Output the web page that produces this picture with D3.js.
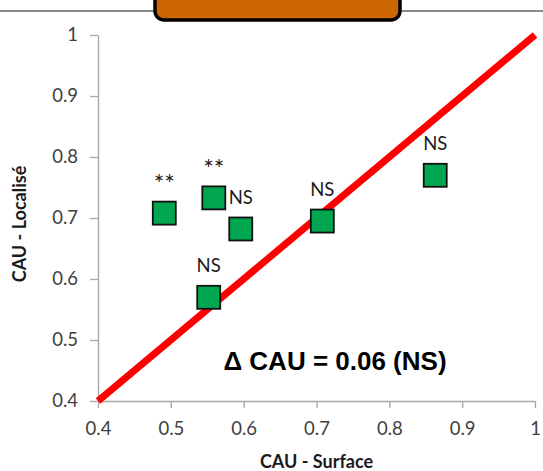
<!DOCTYPE html>
<html>
<head>
<meta charset="utf-8">
<script src="https://cdn.jsdelivr.net/npm/d3@7"></script>
<style>
body { margin: 0; background: #fff; }
svg { display: block; font-family: Lato, "Open Sans", sans-serif; }
.axis text { font-size: 18.5px; fill: #404040; font-family: Lato, sans-serif; }
.axis path, .axis line { stroke: #a6a6a6; stroke-width: 1.3; }
.axis-title { font-size: 18px; font-weight: bold; fill: #1a1a1a; }
.sig { font-size: 18.5px; fill: #1a1a1a; text-anchor: middle; }
.sig.star { font-size: 25px; }
</style>
</head>
<body>
<div id="chart"></div>
<script>
// CAU values per site
const surface  = [0.491, 0.559, 0.596, 0.552, 0.708, 0.863];
const localise = [0.708, 0.733, 0.682, 0.570, 0.695, 0.770];
const signif   = ['**', '**', 'NS', 'NS', 'NS', 'NS'];

const xTicks = [0.4, 0.5, 0.6, 0.7, 0.8, 0.9, 1];
const yTicks = [0.4, 0.5, 0.6, 0.7, 0.8, 0.9, 1];
const identity = [0.4, 1];
const deltaLabel = 'Δ CAU = 0.06 (NS)';

const width = 543, height = 471;
const margin = {top: 35, right: 8, bottom: 70, left: 98};

const svg = d3.select('#chart').append('svg')
  .attr('width', width)
  .attr('height', height);

// header strip with the clipped orange box
svg.append('line')
  .attr('x1', 0).attr('x2', width)
  .attr('y1', 11).attr('y2', 11)
  .attr('stroke', '#8c8c8c')
  .attr('stroke-width', 2);

svg.append('rect')
  .attr('x', 155).attr('y', -20)
  .attr('width', 245).attr('height', 40)
  .attr('rx', 9)
  .attr('fill', '#cc6600')
  .attr('stroke', '#000')
  .attr('stroke-width', 3.5);

let xScale = d3.scaleLinear()
  .domain([0.4, 1])
  .range([margin.left, width - margin.right]);

let yScale = d3.scaleLinear()
  .domain([0.4, 1])
  .range([height - margin.bottom, margin.top]);

const fmt = d => d === 1 ? '1' : d3.format('.1f')(d);

svg.append('g')
  .attr('class', 'axis')
  .attr('transform', `translate(0,${yScale(0.4)})`)
  .call(d3.axisBottom(xScale).tickValues(xTicks).tickFormat(fmt).tickSize(7).tickSizeOuter(0).tickPadding(14));

svg.append('g')
  .attr('class', 'axis')
  .attr('transform', `translate(${xScale(0.4)},0)`)
  .call(d3.axisLeft(yScale).tickValues(yTicks).tickFormat(fmt).tickSize(8).tickSizeOuter(0).tickPadding(12));

// identity line
svg.append('line')
  .attr('x1', xScale(identity[0])).attr('y1', yScale(identity[0]))
  .attr('x2', xScale(identity[1])).attr('y2', yScale(identity[1]))
  .attr('stroke', '#ff0000')
  .attr('stroke-width', 7);

const pts = surface.map((s, i) => ({x: s, y: localise[i], sig: signif[i]}));

const size = 23;

svg.append('g')
  .selectAll('rect')
  .data(pts)
  .enter()
  .append('rect')
  .attr('x', d => xScale(d.x) - size / 2)
  .attr('y', d => yScale(d.y) - size / 2)
  .attr('width', size)
  .attr('height', size)
  .attr('fill', '#00a650')
  .attr('stroke', '#111')
  .attr('stroke-width', 1.8);

svg.append('g')
  .selectAll('text')
  .data(pts)
  .enter()
  .append('text')
  .attr('class', d => d.sig === '**' ? 'sig star' : 'sig')
  .attr('x', d => xScale(d.x))
  .attr('y', d => yScale(d.y) - (d.sig === '**' ? 20 : 25))
  .text(d => d.sig);

svg.append('text')
  .attr('x', 335)
  .attr('y', 370)
  .attr('text-anchor', 'middle')
  .style('font-family', '"Liberation Sans", Arial, sans-serif')
  .style('font-weight', 'bold')
  .style('font-size', '26px')
  .attr('fill', '#000')
  .text(deltaLabel);

svg.append('text')
  .attr('class', 'axis-title')
  .attr('x', (xScale(0.4) + xScale(1)) / 2)
  .attr('y', 468)
  .attr('text-anchor', 'middle')
  .text('CAU - Surface');

svg.append('text')
  .attr('class', 'axis-title')
  .attr('transform', `translate(26,224) rotate(-90)`)
  .attr('text-anchor', 'middle')
  .text('CAU - Localisé');
</script>
</body>
</html>
